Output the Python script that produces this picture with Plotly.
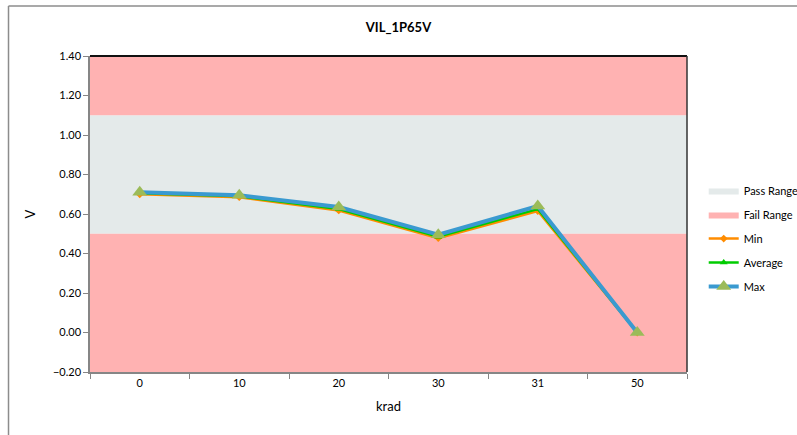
import plotly.graph_objects as go

# Dose steps and measured VIL at 1.65 V
krad = ["0", "10", "20", "30", "31", "50"]
v_min = [0.700, 0.685, 0.618, 0.478, 0.615, 0.0]
v_avg = [0.705, 0.690, 0.625, 0.485, 0.625, 0.0]
v_max = [0.710, 0.695, 0.635, 0.495, 0.640, 0.0]

# Pass window and axis limits
pass_lo, pass_hi = 0.50, 1.10
y_lo, y_hi = -0.20, 1.40
y_ticks = [-0.2, 0.0, 0.2, 0.4, 0.6, 0.8, 1.0, 1.2, 1.4]

xs = list(range(len(krad)))
x0, x1 = -0.5, len(krad) - 0.5

FONT = "Lato"
fig = go.Figure()

# Pass / fail bands
fig.add_trace(go.Scatter(
    x=[x0, x1, x1, x0, x0], y=[pass_lo, pass_lo, pass_hi, pass_hi, pass_lo],
    fill="toself", fillcolor="#E4EAEA", mode="lines", line=dict(width=0),
    name="Pass Range", legendgroup="a", hoverinfo="skip"))
fig.add_trace(go.Scatter(
    x=[x0, x1, x1, x0, x0, None, x0, x1, x1, x0, x0],
    y=[pass_hi, pass_hi, y_hi, y_hi, pass_hi, None, y_lo, y_lo, pass_lo, pass_lo, y_lo],
    fill="toself", fillcolor="#FFB2B2", mode="lines", line=dict(width=0),
    name="Fail Range", legendgroup="b", hoverinfo="skip"))

# Measurement series
fig.add_trace(go.Scatter(
    x=xs, y=v_min, name="Min", legendgroup="c", mode="lines+markers",
    line=dict(color="#FF8C00", width=2.5),
    marker=dict(symbol="diamond", size=6, color="#FF8C00")))
fig.add_trace(go.Scatter(
    x=xs, y=v_avg, name="Average", legendgroup="d", mode="lines+markers",
    line=dict(color="#00CC00", width=2.5),
    marker=dict(symbol="triangle-up", size=7, color="#00CC00")))
fig.add_trace(go.Scatter(
    x=xs, y=v_max, name="Max", legendgroup="e", mode="lines+markers",
    line=dict(color="#3A9AD0", width=4),
    marker=dict(symbol="triangle-up", size=13, color="#9BBB59")))

shapes = [
    # plot frame: top and right edges
    dict(type="line", xref="paper", yref="paper", x0=0, x1=1, y0=1, y1=1,
         line=dict(color="#111111", width=2)),
    dict(type="line", xref="paper", yref="paper", x0=1, x1=1, y0=0, y1=1,
         line=dict(color="#333333", width=1.5)),
    # outer chart border
    dict(type="line", xref="paper", yref="paper", x0=-0.1365, x1=1.4, y0=1.158, y1=1.158,
         line=dict(color="#8C8C8C", width=1.5)),
    dict(type="line", xref="paper", yref="paper", x0=-0.1365, x1=-0.1365, y0=-0.3, y1=1.158,
         line=dict(color="#8C8C8C", width=1.5)),
]

fig.update_layout(
    width=797, height=435,
    margin=dict(l=90, r=110, t=56, b=63, autoexpand=False),
    paper_bgcolor="white", plot_bgcolor="white",
    font=dict(family=FONT, size=11, color="#000000"),
    title=dict(text="<b>VIL_1P65V</b>", x=0.5, xref="container", xanchor="center",
               y=1 - 27 / 435, yref="container", yanchor="middle",
               font=dict(family=FONT, size=13, color="#000000")),
    showlegend=True,
    legend=dict(x=1.028, xanchor="left", y=0.62, yanchor="top",
                traceorder="grouped", tracegroupgap=5,
                font=dict(family=FONT, size=11, color="#000000"),
                bgcolor="rgba(0,0,0,0)", itemwidth=30),
    shapes=shapes,
)

fig.update_xaxes(
    range=[x0, x1], tickmode="array", tickvals=xs, ticktext=krad,
    ticks="", showgrid=False, zeroline=False,
    showline=True, linecolor="#868686", linewidth=1.5,
    minor=dict(tickmode="array", tickvals=[i - 0.5 for i in range(len(krad) + 1)],
               ticks="outside", ticklen=5, tickcolor="#868686", showgrid=False),
    title=dict(text="krad", font=dict(family=FONT, size=13), standoff=14),
    tickfont=dict(family=FONT, size=11),
)
fig.update_yaxes(
    range=[y_lo, y_hi], tickmode="array", tickvals=y_ticks,
    tickformat=".2f", ticks="outside", ticklen=5, tickcolor="#868686",
    showgrid=False, zeroline=False,
    showline=True, linecolor="#868686", linewidth=1.5,
    title=dict(text="V", font=dict(family=FONT, size=13), standoff=14),
    tickfont=dict(family=FONT, size=11),
)

fig.write_html("out.html")
